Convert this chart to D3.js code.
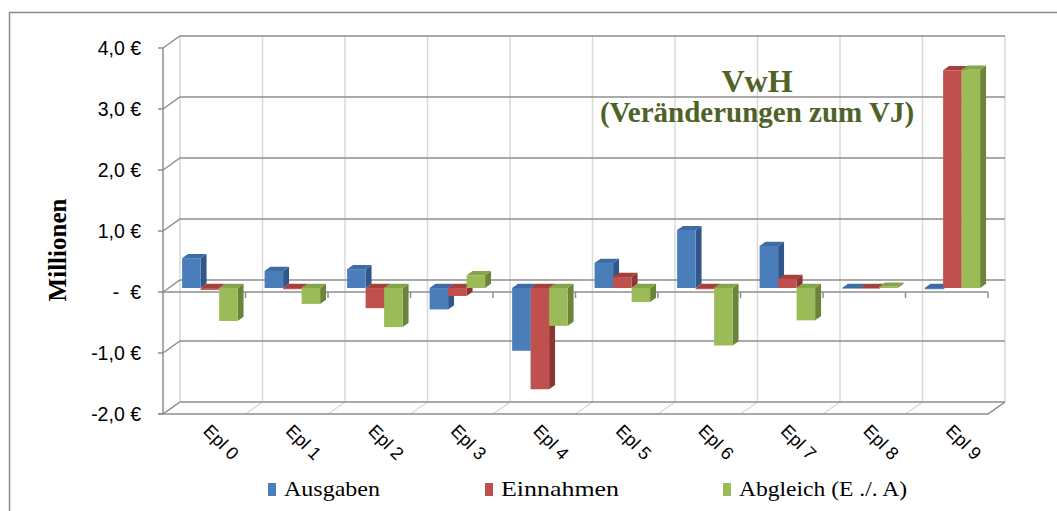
<!DOCTYPE html>
<html>
<head>
<meta charset="utf-8">
<script src="https://cdn.jsdelivr.net/npm/d3@7/dist/d3.min.js"></script>
<style>
    body { margin: 0; background: #fff; }
    svg { display: block; }
    .tickLabel { font-family: "Liberation Sans", Arial, sans-serif; font-size: 19.5px; fill: #000; white-space: pre; }
    .catLabel { font-family: "Liberation Sans", Arial, sans-serif; font-size: 18px; fill: #000; }
    .serif { font-family: "Liberation Serif", "Times New Roman", serif; }
</style>
</head>
<body>
<div class="chart"></div>
<script>
var categories = ["Epl 0", "Epl 1", "Epl 2", "Epl 3", "Epl 4", "Epl 5", "Epl 6", "Epl 7", "Epl 8", "Epl 9"];
var ausgaben = [0.49, 0.28, 0.31, -0.35, -1.03, 0.41, 0.95, 0.69, -0.01, -0.02];
var einnahmen = [-0.03, -0.02, -0.33, -0.13, -1.66, 0.18, -0.02, 0.15, -0.01, 3.57];
var abgleich = [-0.54, -0.26, -0.64, 0.21, -0.62, -0.23, -0.94, -0.53, 0.02, 3.58];
var seriesNames = ["Ausgaben", "Einnahmen", "Abgleich (E ./. A)"];
var yTicks = [-2, -1, 0, 1, 2, 3, 4];
var yTickLabels = ["-2,0 €", "-1,0 €", "-  €", "1,0 €", "2,0 €", "3,0 €", "4,0 €"];

// front, top, side colours per series
var colors = [
    { front: "#4a7ebb", top: "#3d6ca6", side: "#31578a" },
    { front: "#c0504d", top: "#a6403d", side: "#8c3533" },
    { front: "#9bbb59", top: "#84a548", side: "#6a853a" }
];

drawChart();

function drawChart() {
    var width = 1057, height = 511;
    var depthX = 17, depthY = 12;   // full depth offset of the back wall
    var z0 = 0.33, z1 = 0.68;      // bar depth range

    var xScale = d3.scaleBand()
        .domain(categories)
        .range([163, 988]);

    var yScale = d3.scaleLinear()
        .domain([-2, 4])
        .range([414, 48]);

    var xInner = d3.scaleBand()
        .domain(seriesNames)
        .range([13.5, 69]);

    var dark = "#8e8e8e", light = "#d9d9d9";

    var svg = d3.select(".chart").append("svg")
        .attr("width", width)
        .attr("height", height);

    // chart frame (cut off right and bottom)
    svg.append("path")
        .attr("d", "M9.5," + height + "V12.5H" + width)
        .attr("fill", "none")
        .attr("stroke", "#8c8c8c")
        .attr("stroke-width", 1.5);

    var step = xScale.step();
    var bounds = d3.range(categories.length + 1).map(function (i) {
        return 163 + i * step;
    });

    // back wall verticals
    svg.selectAll(".backV")
        .data(bounds)
        .enter().append("line")
        .attr("x1", function (d) { return d + depthX; })
        .attr("x2", function (d) { return d + depthX; })
        .attr("y1", yScale(4) - depthY)
        .attr("y2", yScale(-2) - depthY)
        .attr("stroke", light)
        .attr("stroke-width", 1.5);

    // floor lines
    svg.selectAll(".floorL")
        .data(bounds)
        .enter().append("line")
        .attr("x1", function (d) { return d; })
        .attr("x2", function (d) { return d + depthX; })
        .attr("y1", yScale(-2))
        .attr("y2", yScale(-2) - depthY)
        .attr("stroke", light)
        .attr("stroke-width", 1.5);

    // horizontal gridlines (side wall + back wall)
    svg.selectAll(".grid")
        .data(yTicks)
        .enter().append("path")
        .attr("d", function (d) {
            var y = yScale(d);
            return "M163," + y + "L" + (163 + depthX) + "," + (y - depthY) + "H" + (988 + depthX);
        })
        .attr("fill", "none")
        .attr("stroke", dark)
        .attr("stroke-width", 1.5);

    // front floor edge
    svg.append("path")
        .attr("d", "M158," + yScale(-2) + "H988L" + (988 + depthX) + "," + (yScale(-2) - depthY))
        .attr("fill", "none")
        .attr("stroke", dark)
        .attr("stroke-width", 1.5);

    // y axis
    svg.append("line")
        .attr("x1", 163).attr("x2", 163)
        .attr("y1", yScale(4)).attr("y2", yScale(-2))
        .attr("stroke", dark)
        .attr("stroke-width", 1.5);

    svg.selectAll(".yTick")
        .data(yTicks)
        .enter().append("line")
        .attr("x1", 158).attr("x2", 163)
        .attr("y1", function (d) { return yScale(d); })
        .attr("y2", function (d) { return yScale(d); })
        .attr("stroke", dark)
        .attr("stroke-width", 1.5);

    svg.selectAll(".tickLabel")
        .data(yTicks)
        .enter().append("text")
        .attr("class", "tickLabel")
        .attr("x", 141)
        .attr("y", function (d) { return yScale(d) + 7; })
        .attr("text-anchor", "end")
        .text(function (d, i) { return yTickLabels[i]; });

    // zero axis at the front
    svg.append("line")
        .attr("x1", 163).attr("x2", 988)
        .attr("y1", yScale(0)).attr("y2", yScale(0))
        .attr("stroke", dark)
        .attr("stroke-width", 1.5);

    svg.selectAll(".xTick")
        .data(bounds.slice(1))
        .enter().append("line")
        .attr("x1", function (d) { return d; })
        .attr("x2", function (d) { return d; })
        .attr("y1", yScale(0))
        .attr("y2", yScale(0) + 6)
        .attr("stroke", dark)
        .attr("stroke-width", 1.5);

    // bars
    var series = [ausgaben, einnahmen, abgleich];
    var bars = [];
    categories.forEach(function (c, i) {
        series.forEach(function (s, j) {
            bars.push({ cat: c, name: seriesNames[j], value: s[i], k: j });
        });
    });

    var g = svg.selectAll(".bar")
        .data(bars)
        .enter().append("g")
        .attr("class", "bar");

    function pt(x, y, z) {
        return (x + z * depthX) + "," + (y - z * depthY);
    }

    g.each(function (d) {
        var el = d3.select(this);
        var x = xScale(d.cat) + xInner(d.name);
        var w = xInner.bandwidth();
        var yTop = yScale(Math.max(d.value, 0));
        var yBot = yScale(Math.min(d.value, 0));
        var col = colors[d.k];

        // side face
        el.append("polygon")
            .attr("points", [pt(x + w, yTop, z0), pt(x + w, yTop, z1), pt(x + w, yBot, z1), pt(x + w, yBot, z0)].join(" "))
            .attr("fill", col.side);
        // top face
        el.append("polygon")
            .attr("points", [pt(x, yTop, z0), pt(x, yTop, z1), pt(x + w, yTop, z1), pt(x + w, yTop, z0)].join(" "))
            .attr("fill", col.top);
        // front face
        el.append("polygon")
            .attr("points", [pt(x, yTop, z0), pt(x + w, yTop, z0), pt(x + w, yBot, z0), pt(x, yBot, z0)].join(" "))
            .attr("fill", col.front);
    });

    // category labels
    svg.selectAll(".catLabel")
        .data(categories)
        .enter().append("text")
        .attr("class", "catLabel")
        .attr("transform", function (d) {
            var cx = xScale(d) + xScale.bandwidth() / 2 - 2;
            return "translate(" + cx + ",432) rotate(45)";
        })
        .text(function (d) { return d; });

    // y axis title
    svg.append("text")
        .attr("class", "serif")
        .attr("transform", "translate(66,250) rotate(-90)")
        .attr("text-anchor", "middle")
        .attr("font-size", 25)
        .attr("font-weight", "bold")
        .text("Millionen");

    // title
    svg.append("text")
        .attr("class", "serif")
        .attr("x", 757).attr("y", 92)
        .attr("text-anchor", "middle")
        .attr("font-size", 32)
        .attr("font-weight", "bold")
        .attr("fill", "#4f6228")
        .text("VwH");

    svg.append("text")
        .attr("class", "serif")
        .attr("x", 757).attr("y", 122)
        .attr("text-anchor", "middle")
        .attr("font-size", 29)
        .attr("font-weight", "bold")
        .attr("fill", "#4f6228")
        .text("(Veränderungen zum VJ)");

    // legend
    var legendX = [268, 485, 723];
    var legendW = [96, 118, 168];
    var legend = svg.selectAll(".legend")
        .data(seriesNames)
        .enter().append("g")
        .attr("class", "legend")
        .attr("transform", function (d, i) { return "translate(" + legendX[i] + ",483)"; });

    legend.append("rect")
        .attr("width", 8)
        .attr("height", 13)
        .attr("fill", function (d, i) { return colors[i].front; });

    legend.append("text")
        .attr("class", "serif")
        .attr("x", 16)
        .attr("y", 13)
        .attr("font-size", 21)
        .attr("textLength", function (d, i) { return legendW[i]; })
        .attr("lengthAdjust", "spacingAndGlyphs")
        .text(function (d) { return d; });
}
</script>
</body>
</html>
